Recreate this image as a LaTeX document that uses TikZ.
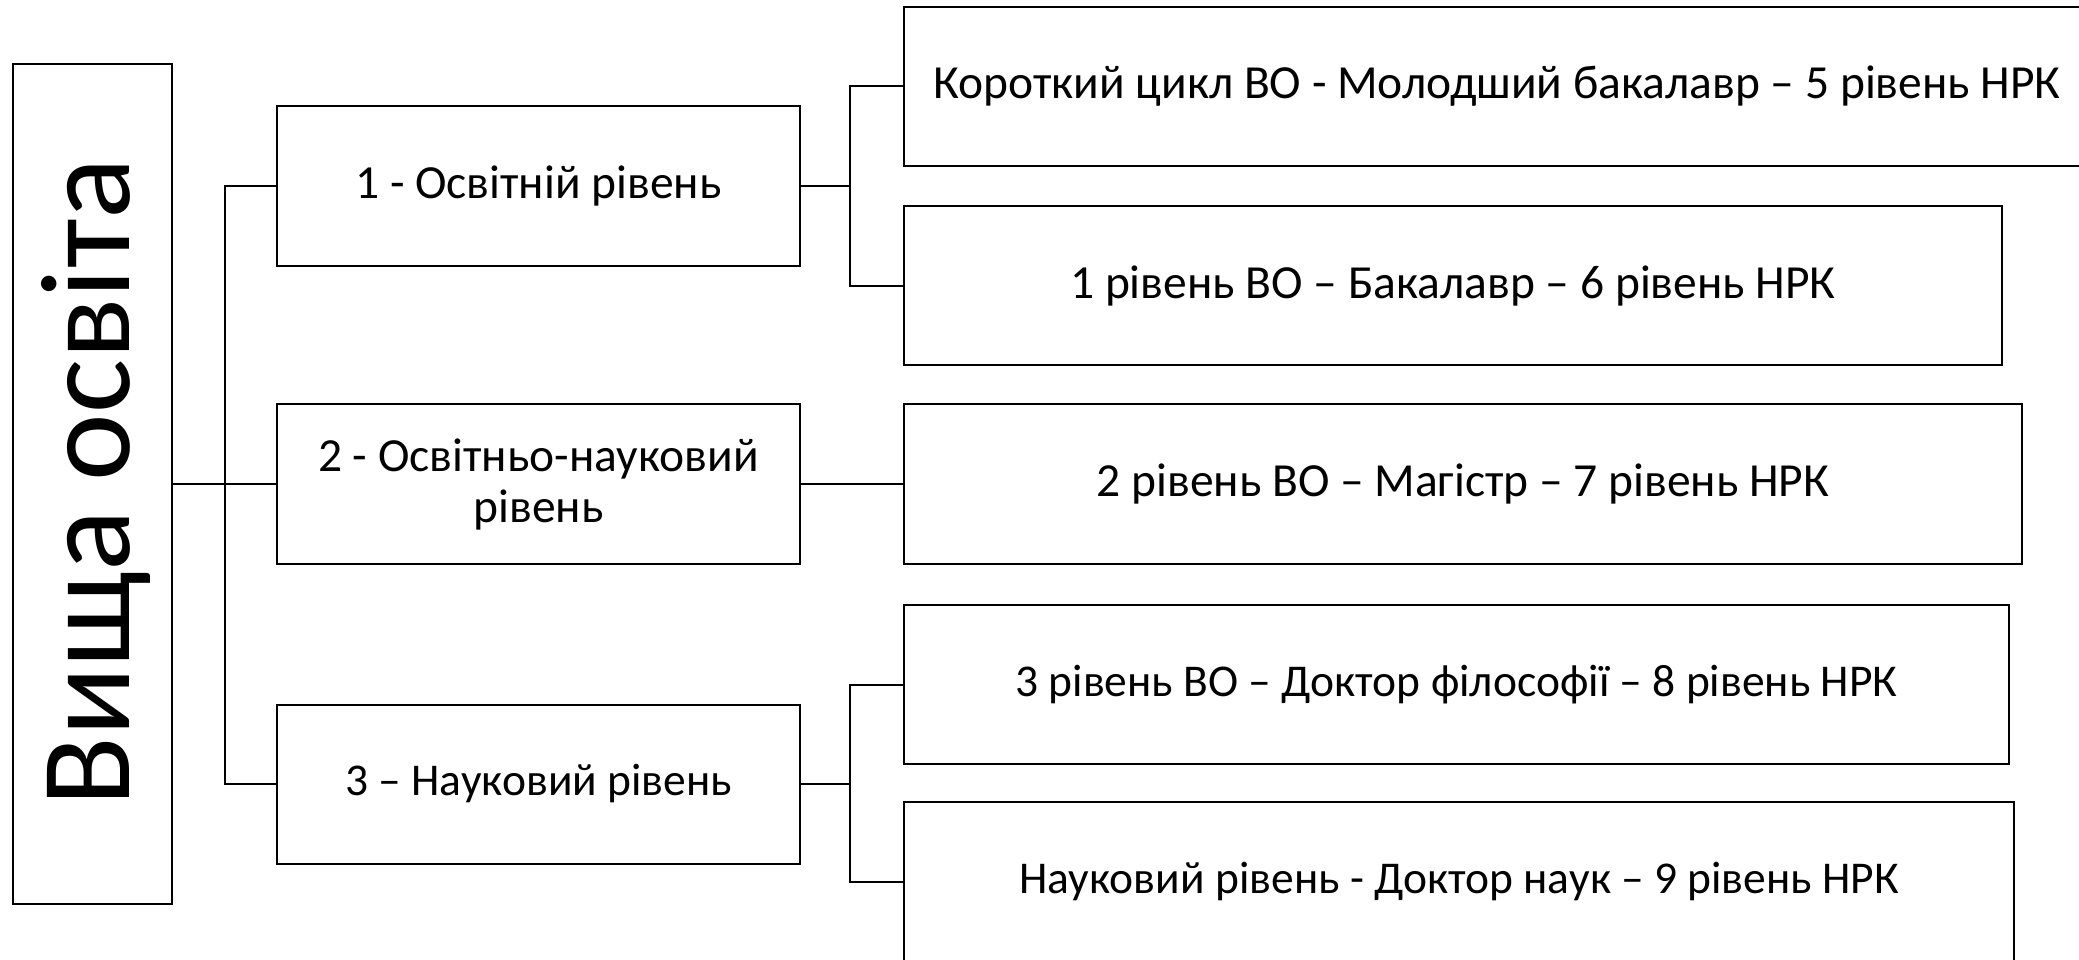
\documentclass[tikz,border=0pt]{standalone}
\usepackage{fontspec}
\setmainfont{Carlito}
\begin{document}
\begin{tikzpicture}[x=1pt,y=-1pt,
  box/.style={draw,line width=2pt,rectangle,inner sep=0pt,outer sep=0pt,align=center,
    font=\fontsize{47.5}{51}\selectfont},
  smallbox/.style={box,font=\fontsize{45.5}{51}\selectfont},
  conn/.style={line width=2pt,line join=miter}]
\useasboundingbox (0,0) rectangle (2079,960);
\clip (0,0) rectangle (2079,960);
% main box
\node[box,minimum width=159pt,minimum height=840pt] (main) at (92.5,484) {};
\node[rotate=90,anchor=base,inner sep=0pt,font=\fontsize{128}{130}\selectfont] (maintext) at (129,482) {Вища освіта};
% level boxes
\node[box,minimum width=523pt,minimum height=159pt] (l1) at (538.5,186) {1 - Освітній рівень};
\node[box,minimum width=523pt,minimum height=160pt] (l2) at (538.5,484) {2 - Освітньо-науковий\\рівень};
\node[smallbox,minimum width=523pt,minimum height=159pt] (l3) at (538.5,784) {3 – Науковий рівень};
% right boxes
\node[box,minimum width=1186pt,minimum height=159pt] (ra) at (1497,86.5) {Короткий цикл ВО - Молодший бакалавр – 5 рівень НРК};
\node[box,minimum width=1098pt,minimum height=159pt] (rb) at (1453,285.5) {1 рівень ВО – Бакалавр – 6 рівень НРК};
\node[box,minimum width=1118pt,minimum height=160pt] (rc) at (1463,484) {2 рівень ВО – Магістр – 7 рівень НРК};
\node[smallbox,minimum width=1105pt,minimum height=159pt] (rd) at (1456.5,684.5) {3 рівень ВО – Доктор філософії – 8 рівень НРК};
\node[smallbox,minimum width=1110pt,minimum height=160pt] (re) at (1459,882) {Науковий рівень - Доктор наук – 9 рівень НРК};
% junction points
\coordinate (tr) at (225,484);
\coordinate (b1) at (850,186);
\coordinate (b3) at (850,784);
% connectors
\draw[conn] (main.east) -- (l2.west);
\draw[conn] (l1.west) -| (tr) |- (l3.west);
\draw[conn] (l1.east) -- (b1);
\draw[conn] (ra.west) -| (b1) |- (rb.west);
\draw[conn] (l2.east) -- (rc.west);
\draw[conn] (l3.east) -- (b3);
\draw[conn] (rd.west) -| (b3) |- (re.west);
\end{tikzpicture}
\end{document}
